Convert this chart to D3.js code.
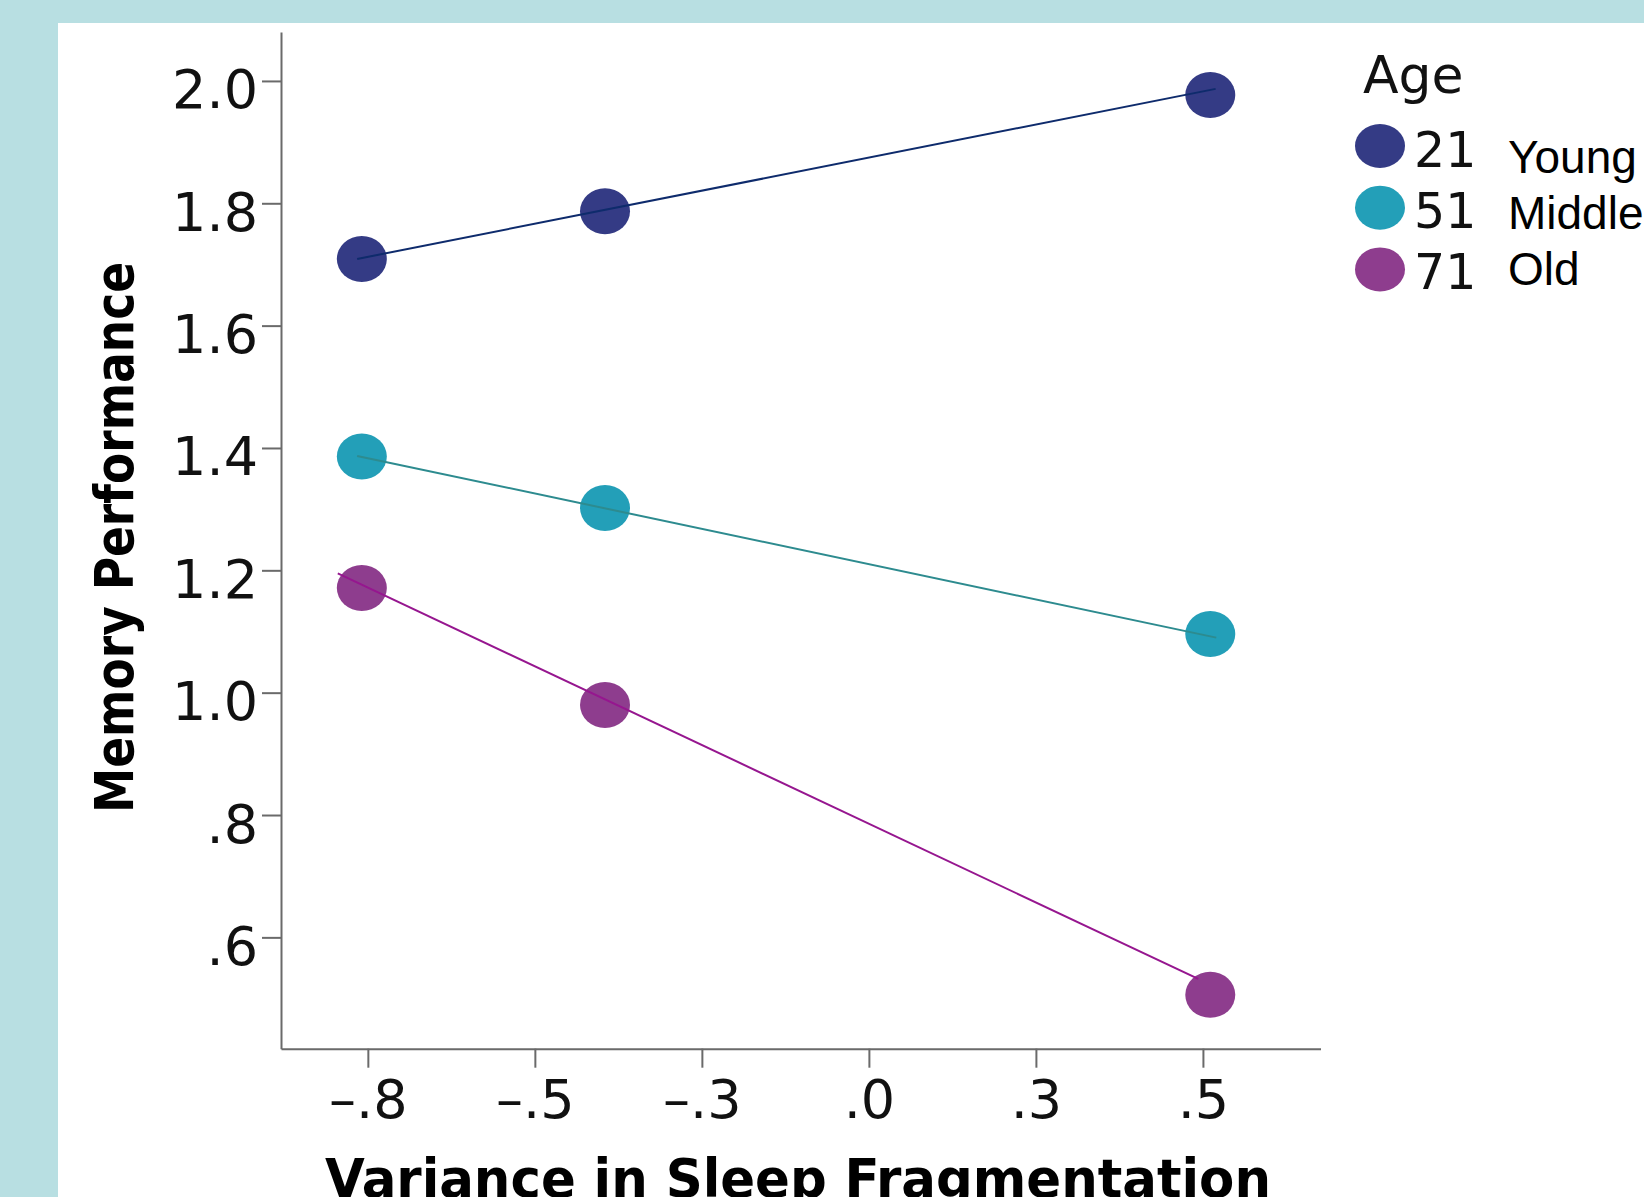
<!DOCTYPE html>
<html>
<head>
<meta charset="utf-8">
<script src="https://cdn.jsdelivr.net/npm/d3@7"></script>
<style>
  html, body { margin: 0; padding: 0; background: #b8dfe2; }
  svg { display: block; }
</style>
</head>
<body>
<svg id="chart" width="1644" height="1197"></svg>
<script>
// ---- data ----
const groups = ["21", "51", "71"];
const groupNames = ["Young", "Middle", "Old"];
const xValues = [-0.759, -0.395, 0.511];
const youngValues = [1.709, 1.787, 1.977];
const middleValues = [1.386, 1.302, 1.096];
const oldValues = [1.171, 0.980, 0.506];
// fit-line end points (x, y) per group
const youngLineX = [-0.766, 0.519];
const youngLineY = [1.709, 1.987];
const middleLineX = [-0.766, 0.520];
const middleLineY = [1.387, 1.090];
const oldLineX = [-0.795, 0.493];
const oldLineY = [1.195, 0.532];
const xTickValues = [-0.75, -0.5, -0.25, 0, 0.25, 0.5];
const xTickLabels = ["\u2013.8", "\u2013.5", "\u2013.3", ".0", ".3", ".5"];
const yTickValues = [0.6, 0.8, 1.0, 1.2, 1.4, 1.6, 1.8, 2.0];
const yTickLabels = [".6", ".8", "1.0", "1.2", "1.4", "1.6", "1.8", "2.0"];
const xTitle = "Variance in Sleep Fragmentation";
const yTitle = "Memory Performance";
const legendTitle = "Age";

// ---- styles ----
const dotColors = ["#343b85", "#239fb8", "#8e3d8e"];
const lineColors = ["#0e2b6c", "#2d8b8f", "#96168f"];

const svg = d3.select("#chart");
svg.append("rect").attr("x", 0).attr("y", 0).attr("width", 1644).attr("height", 1197).attr("fill", "#b8dfe2");
svg.append("rect").attr("x", 58).attr("y", 23).attr("width", 1644 - 58).attr("height", 1197 - 23).attr("fill", "#ffffff");

const x = d3.scaleLinear().domain([-0.880, 0.676]).range([281, 1320.5]);
const y = d3.scaleLinear().domain([0.418, 2.080]).range([1048.7, 32]);

const series = [
  { vals: youngValues, lx: youngLineX, ly: youngLineY },
  { vals: middleValues, lx: middleLineX, ly: middleLineY },
  { vals: oldValues, lx: oldLineX, ly: oldLineY }
];

// axes
const axisColor = "#6a6a6a";
const yAxis = d3.axisLeft(y).tickValues(yTickValues)
  .tickFormat((d, i) => yTickLabels[i]).tickSize(19).tickPadding(4).tickSizeOuter(0);
const gy = svg.append("g").attr("transform", `translate(${x.range()[0]},0)`).call(yAxis);
gy.select(".domain").attr("stroke", axisColor).attr("stroke-width", 2);
gy.selectAll(".tick line").attr("stroke", axisColor).attr("stroke-width", 2);
gy.selectAll(".tick text")
  .attr("font-family", "'DejaVu Sans', sans-serif").attr("font-size", 54)
  .attr("fill", "#111").attr("dy", "0.5em");

const xAxis = d3.axisBottom(x).tickValues(xTickValues)
  .tickFormat((d, i) => xTickLabels[i]).tickSize(19).tickPadding(12).tickSizeOuter(0);
const gx = svg.append("g").attr("transform", `translate(0,${y.range()[0]})`).call(xAxis);
gx.select(".domain").attr("stroke", axisColor).attr("stroke-width", 2);
gx.selectAll(".tick line").attr("stroke", axisColor).attr("stroke-width", 2);
gx.selectAll(".tick text")
  .attr("font-family", "'DejaVu Sans', sans-serif").attr("font-size", 54)
  .attr("fill", "#111").attr("dy", "0.71em");

// dots first, lines on top
const dotsLayer = svg.append("g");
const linesLayer = svg.append("g");
series.forEach((s, i) => {
  dotsLayer.append("g").selectAll("ellipse")
    .data(s.vals.map((v, j) => [xValues[j], v]))
    .join("ellipse")
    .attr("cx", d => x(d[0])).attr("cy", d => y(d[1]))
    .attr("rx", 25).attr("ry", 23)
    .attr("fill", dotColors[i]);
});
const lineGen = d3.line().x(d => x(d[0])).y(d => y(d[1]));
series.forEach((s, i) => {
  linesLayer.append("path")
    .datum(s.lx.map((v, j) => [v, s.ly[j]]))
    .attr("d", lineGen)
    .attr("fill", "none")
    .attr("stroke", lineColors[i])
    .attr("stroke-width", 2);
});

// axis titles
svg.append("text")
  .attr("transform", `translate(133,${(262 + 813) / 2}) rotate(-90)`)
  .attr("text-anchor", "middle")
  .attr("font-family", "'DejaVu Sans Condensed', 'DejaVu Sans', sans-serif")
  .attr("font-stretch", "condensed")
  .attr("font-weight", "bold").attr("font-size", 54)
  .attr("textLength", 551).attr("lengthAdjust", "spacingAndGlyphs")
  .attr("fill", "#000").text(yTitle);

svg.append("text")
  .attr("x", (325 + 1271) / 2).attr("y", 1197)
  .attr("text-anchor", "middle")
  .attr("font-family", "'DejaVu Sans Condensed', 'DejaVu Sans', sans-serif")
  .attr("font-stretch", "condensed")
  .attr("font-weight", "bold").attr("font-size", 54)
  .attr("textLength", 946).attr("lengthAdjust", "spacingAndGlyphs")
  .attr("fill", "#000").text(xTitle);

// legend
svg.append("text").attr("x", 1363).attr("y", 93)
  .attr("font-family", "'DejaVu Sans', sans-serif").attr("font-size", 52)
  .attr("fill", "#111").text(legendTitle);
const leg = svg.append("g");
groups.forEach((g, i) => {
  leg.append("ellipse").attr("cx", 1380).attr("cy", 146 + 61.7 * i)
    .attr("rx", 25).attr("ry", 22).attr("fill", dotColors[i]);
  leg.append("text").attr("x", 1414).attr("y", 167 + 61 * i)
    .attr("font-family", "'DejaVu Sans', sans-serif").attr("font-size", 49)
    .attr("fill", "#111").text(g);
  leg.append("text").attr("x", 1508).attr("y", 173 + 56 * i)
    .attr("font-family", "'Liberation Sans', Arial, sans-serif").attr("font-size", 46)
    .attr("fill", "#000").text(groupNames[i]);
});
</script>
</body>
</html>
